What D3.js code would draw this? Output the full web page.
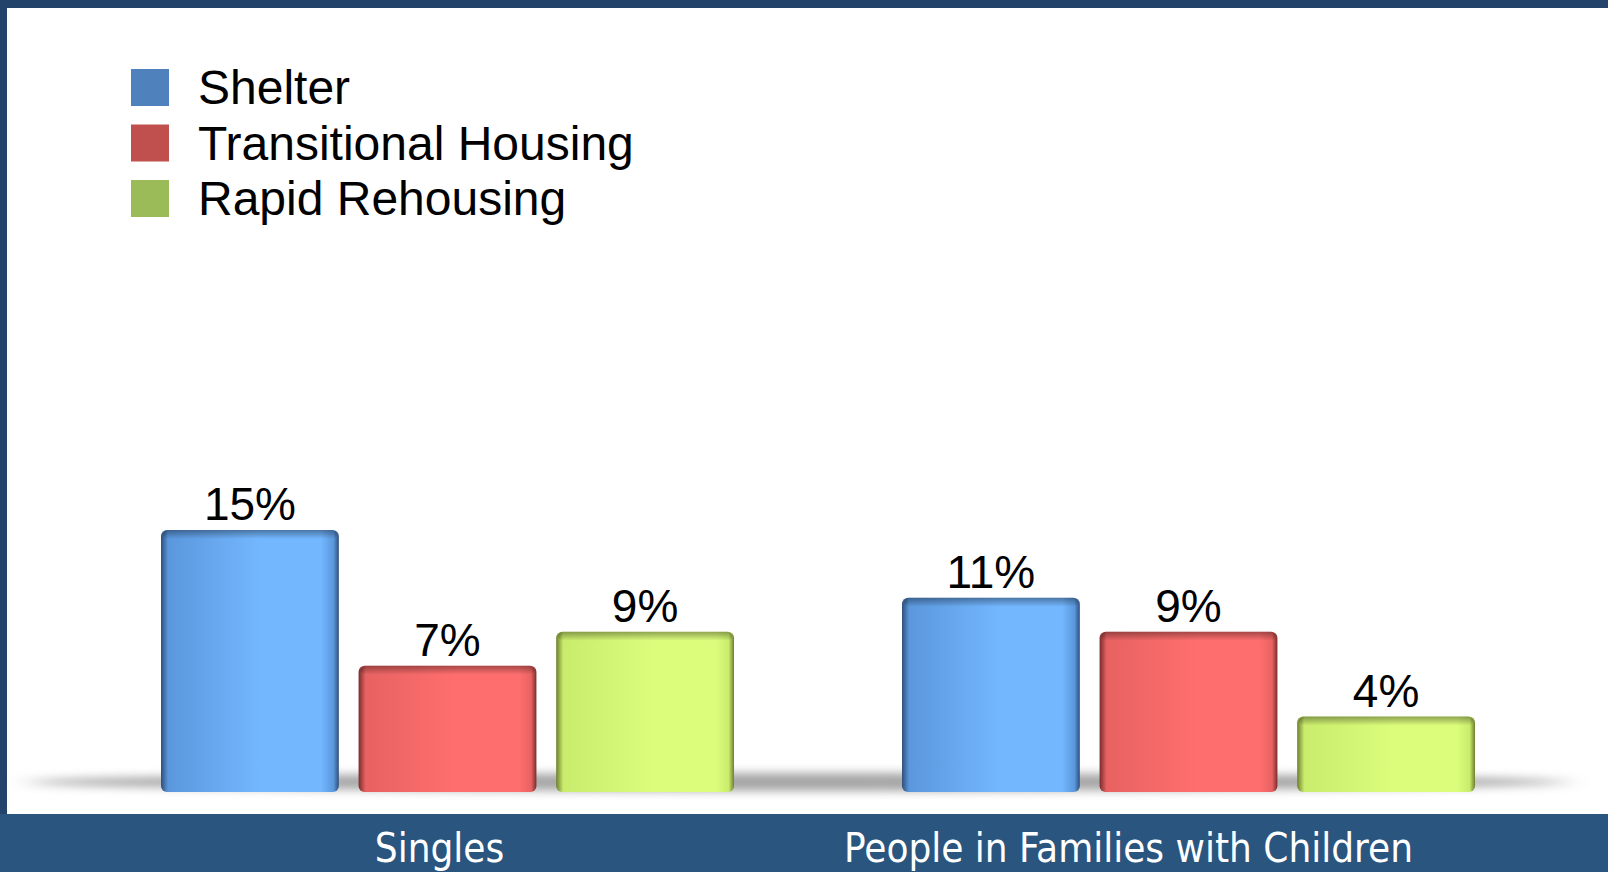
<!DOCTYPE html>
<html>
<head>
<meta charset="utf-8">
<script src="https://cdn.jsdelivr.net/npm/d3@7"></script>
<style>
  body { margin: 0; background: #fff; }
  svg { display: block; }
</style>
</head>
<body>
<div id="a"></div>
<script>
// chart data
var categories = ["Singles", "People in Families with Children"];
var series = ["Shelter", "Transitional Housing", "Rapid Rehousing"];
var shelter = [15, 11];
var transitional = [7, 9];
var rapid = [9, 4];
var valueLabels = [["15%", "7%", "9%"], ["11%", "9%", "4%"]];

var W = 1608, H = 872;
var legendCol = ["#4f81bd", "#c0504d", "#9bbb59"];
// light / mid / edge colours used for the bar shading
var barCol = [
  ["#5b97dc", "#73b7ff", "#2e4f7a"],
  ["#e86262", "#ff6e6e", "#7a2c2c"],
  ["#c9ec6c", "#dcfd7c", "#6e7f2e"]
];

var svg = d3.select("#a").append("svg")
  .attr("width", W)
  .attr("height", H);

// frame
svg.append("rect").attr("width", W).attr("height", H).attr("fill", "#23436a");
svg.append("rect").attr("x", 7).attr("y", 8).attr("width", W - 7).attr("height", 806).attr("fill", "#fff");
svg.append("rect").attr("x", 0).attr("y", 814).attr("width", W).attr("height", H - 814).attr("fill", "#29557f");

var defs = svg.append("defs");
barCol.forEach(function(c, i) {
  var g = defs.append("linearGradient").attr("id", "bar" + i)
    .attr("x1", "0%").attr("x2", "100%").attr("y1", "0%").attr("y2", "0%");
  g.append("stop").attr("offset", "0%").attr("stop-color", c[2]);
  g.append("stop").attr("offset", "4%").attr("stop-color", c[0]);
  g.append("stop").attr("offset", "55%").attr("stop-color", c[1]);
  g.append("stop").attr("offset", "90%").attr("stop-color", c[1]);
  g.append("stop").attr("offset", "97%").attr("stop-color", c[0]);
  g.append("stop").attr("offset", "100%").attr("stop-color", c[2]);
});
var cap = defs.append("linearGradient").attr("id", "cap")
  .attr("x1", "0%").attr("x2", "0%").attr("y1", "0%").attr("y2", "100%");
cap.append("stop").attr("offset", "0%").attr("stop-color", "#000").attr("stop-opacity", 0.35);
cap.append("stop").attr("offset", "100%").attr("stop-color", "#000").attr("stop-opacity", 0);
defs.append("filter").attr("id", "blur").attr("x", "-10%").attr("y", "-200%")
  .attr("width", "120%").attr("height", "500%")
  .append("feGaussianBlur").attr("stdDeviation", "14 5");

// scales (the bars stand a little below zero, on the floor)
var x0 = d3.scaleBand().domain(categories).range([161, 1475]).paddingInner(0.2267);
var x1 = d3.scaleBand().domain(series).range([0, x0.bandwidth()]).paddingInner(0.1);
var y = d3.scaleLinear().domain([-0.45, 15]).range([792, 530]);
var xLab = d3.scaleBand().domain(categories).range([95, 1473]);

// floor shadow
svg.append("ellipse")
  .attr("cx", (x0.range()[0] + x0.range()[1]) / 2 - 20)
  .attr("cy", y(-0.45) - 10)
  .attr("rx", 770).attr("ry", 9)
  .attr("fill", "#888").attr("opacity", 0.75)
  .attr("filter", "url(#blur)");

var rows = categories.map(function(c, i) {
  return [shelter[i], transitional[i], rapid[i]].map(function(v, j) {
    return { cat: c, s: series[j], j: j, v: v, label: valueLabels[i][j] };
  });
});

var groups = svg.selectAll("g.grp")
  .data(rows)
  .enter().append("g")
  .attr("class", "grp")
  .attr("transform", function(d) { return "translate(" + x0(d[0].cat) + ",0)"; });

var bars = groups.selectAll("g.bar")
  .data(function(d) { return d; })
  .enter().append("g").attr("class", "bar");

bars.append("rect")
  .attr("x", function(d) { return x1(d.s); })
  .attr("y", function(d) { return y(d.v); })
  .attr("width", x1.bandwidth())
  .attr("height", function(d) { return y(-0.45) - y(d.v); })
  .attr("rx", 6)
  .attr("fill", function(d) { return "url(#bar" + d.j + ")"; });

bars.append("rect")
  .attr("x", function(d) { return x1(d.s) + 2; })
  .attr("y", function(d) { return y(d.v); })
  .attr("width", x1.bandwidth() - 4)
  .attr("height", 9)
  .attr("rx", 5)
  .attr("fill", "url(#cap)");

bars.append("text")
  .attr("x", function(d) { return x1(d.s) + x1.bandwidth() / 2; })
  .attr("y", function(d) { return y(d.v) - 10; })
  .attr("text-anchor", "middle")
  .style("font-family", "'Liberation Sans', Arial, sans-serif")
  .style("font-size", "46px")
  .attr("fill", "#000")
  .text(function(d) { return d.label; });

// legend
var leg = svg.selectAll("g.leg")
  .data(series)
  .enter().append("g")
  .attr("class", "leg")
  .attr("transform", function(d, i) { return "translate(131," + (69 + i * 55.5) + ")"; });
leg.append("rect").attr("width", 38).attr("height", 37)
  .attr("fill", function(d, i) { return legendCol[i]; });
leg.append("text")
  .attr("x", 67).attr("y", 35)
  .style("font-family", "'Liberation Sans', Arial, sans-serif")
  .style("font-size", "48px")
  .attr("fill", "#000")
  .text(function(d) { return d; });

// category labels in bottom band
svg.selectAll("text.cat")
  .data(categories)
  .enter().append("text")
  .attr("class", "cat")
  .attr("x", function(d) { return xLab(d) + xLab.bandwidth() / 2; })
  .attr("y", 862)
  .attr("text-anchor", "middle")
  .style("font-family", "'DejaVu Sans Condensed', sans-serif")
  .style("font-size", "40px")
  .attr("fill", "#fff")
  .text(function(d) { return d; });
</script>
</body>
</html>
